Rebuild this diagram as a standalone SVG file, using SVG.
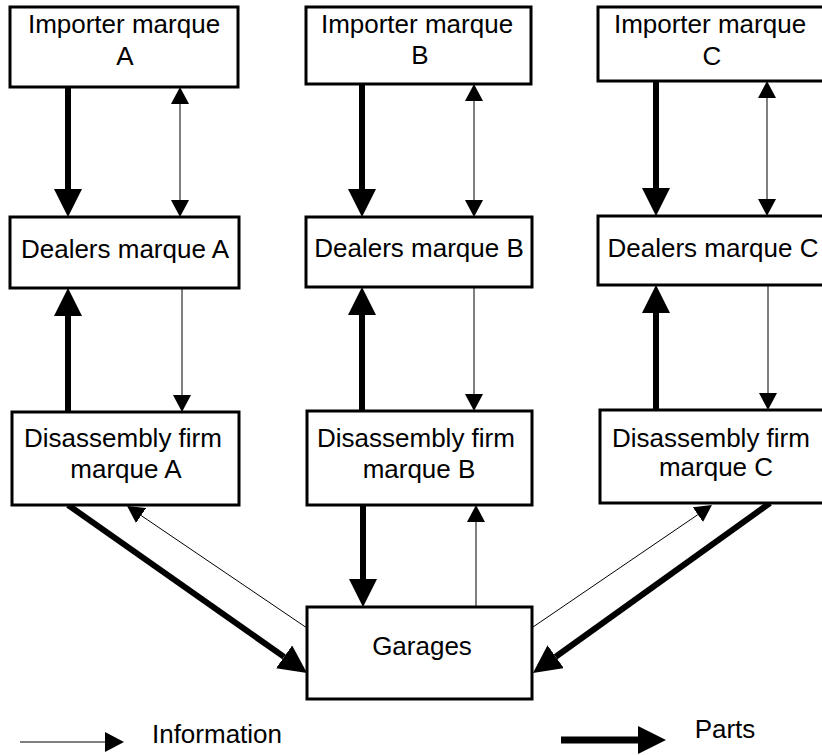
<svg xmlns="http://www.w3.org/2000/svg" width="822" height="755" viewBox="0 0 822 755">
<style>
.box{fill:#fff;stroke:#000;stroke-width:3}
.lbl{font-family:"Liberation Sans",Arial,sans-serif;font-size:26px;fill:#000;text-anchor:middle}
.thick{stroke:#000;stroke-width:6;fill:none;marker-end:url(#ahT)}
.thin{stroke:#000;stroke-width:1;fill:none;marker-end:url(#ahS)}
.both{stroke:#000;stroke-width:1;fill:none;marker-end:url(#ahS);marker-start:url(#ahS)}
</style>
<defs>
<marker id="ahT" markerUnits="userSpaceOnUse" viewBox="0 0 28 28" markerWidth="28" markerHeight="28" refX="0" refY="14" orient="auto"><path d="M0,0 L28,14 L0,28 z" fill="#000"/></marker>
<marker id="ahS" markerUnits="userSpaceOnUse" viewBox="0 0 17 18" markerWidth="17" markerHeight="18" refX="0" refY="9" orient="auto-start-reverse"><path d="M0,0 L17,9 L0,18 z" fill="#000"/></marker>
<marker id="ahL" markerUnits="userSpaceOnUse" viewBox="0 0 19 20" markerWidth="19" markerHeight="20" refX="0" refY="10" orient="auto"><path d="M0,0 L19,10 L0,20 z" fill="#000"/></marker>
</defs>
<rect width="822" height="755" fill="#fff"/>
<g id="connectors">
<line class="thick" x1="68" y1="87" x2="68" y2="189"/>
<line class="both" x1="180" y1="104" x2="180" y2="200"/>
<line class="thick" x1="68" y1="412" x2="68" y2="316"/>
<line class="thin" x1="182" y1="288" x2="182" y2="395"/>
<line class="thick" x1="362" y1="84" x2="362" y2="189"/>
<line class="both" x1="474" y1="101" x2="474" y2="200"/>
<line class="thick" x1="362" y1="411" x2="362" y2="315"/>
<line class="thin" x1="474" y1="287" x2="474" y2="394"/>
<line class="thick" x1="656" y1="81" x2="656" y2="188"/>
<line class="both" x1="767" y1="98" x2="767" y2="199"/>
<line class="thick" x1="656" y1="410" x2="656" y2="313"/>
<line class="thin" x1="768" y1="285" x2="768" y2="393"/>
<line class="thick" x1="363" y1="505" x2="363" y2="579"/>
<line class="thin" x1="476" y1="607" x2="476" y2="522"/>
<line class="thick" x1="68" y1="505" x2="284.1" y2="656.9"/>
<line class="thin" x1="307" y1="628" x2="141.1" y2="515.5"/>
<line class="thick" x1="770" y1="503" x2="555.7" y2="656.7"/>
<line class="thin" x1="533" y1="627" x2="697.9" y2="514.6"/>
</g>
<g id="importer-a"><rect class="box" x="10" y="7" width="228" height="80"/><text class="lbl" x="124" y="33">Importer marque</text><text class="lbl" x="125" y="65">A</text></g>
<g id="importer-b"><rect class="box" x="306" y="7" width="225" height="77"/><text class="lbl" x="417" y="33">Importer marque</text><text class="lbl" x="420" y="64">B</text></g>
<g id="importer-c"><rect class="box" x="598" y="7" width="232" height="74"/><text class="lbl" x="710" y="33">Importer marque</text><text class="lbl" x="712" y="65">C</text></g>
<g id="dealers-a"><rect class="box" x="10" y="217" width="229" height="71"/><text class="lbl" x="125" y="258">Dealers marque A</text></g>
<g id="dealers-b"><rect class="box" x="306" y="217" width="226" height="70"/><text class="lbl" x="419" y="257">Dealers marque B</text></g>
<g id="dealers-c"><rect class="box" x="598" y="216" width="232" height="69"/><text class="lbl" x="713" y="257">Dealers marque C</text></g>
<g id="disassembly-a"><rect class="box" x="12" y="412" width="227" height="93"/><text class="lbl" x="123" y="447">Disassembly firm</text><text class="lbl" x="126" y="478">marque A</text></g>
<g id="disassembly-b"><rect class="box" x="307" y="411" width="225" height="94"/><text class="lbl" x="416" y="447">Disassembly firm</text><text class="lbl" x="419" y="478">marque B</text></g>
<g id="disassembly-c"><rect class="box" x="600" y="410" width="230" height="93"/><text class="lbl" x="711" y="447">Disassembly firm</text><text class="lbl" x="716" y="476">marque C</text></g>
<g id="garages"><rect class="box" x="307" y="607" width="225" height="92"/><text class="lbl" x="422" y="655">Garages</text></g>
<g id="legend">
<line stroke="#000" stroke-width="1" marker-end="url(#ahL)" x1="20" y1="742" x2="105" y2="742"/>
<text class="lbl" x="217" y="743">Information</text>
<line class="thick" style="stroke-width:7" x1="561" y1="740" x2="638" y2="740"/>
<text class="lbl" x="725" y="738">Parts</text>
</g>
</svg>
